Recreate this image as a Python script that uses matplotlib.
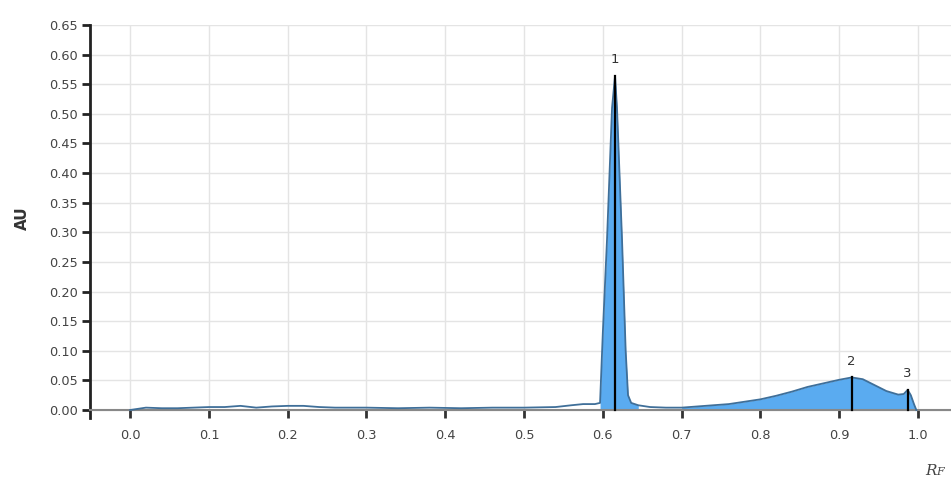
import numpy as np
import matplotlib.pyplot as plt

# densitogram: Rf position vs absorbance
rf = [0.0, 0.02, 0.04, 0.06, 0.08, 0.10, 0.12, 0.14, 0.16, 0.18, 0.20, 0.22, 0.24,
      0.26, 0.28, 0.30, 0.34, 0.38, 0.42, 0.46, 0.50, 0.54, 0.56, 0.575, 0.59,
      0.5965, 0.600, 0.6053, 0.6117, 0.6155, 0.618, 0.6244, 0.629, 0.632,
      0.636, 0.645, 0.66, 0.68, 0.70, 0.72, 0.74, 0.76, 0.78, 0.80, 0.82,
      0.84, 0.86, 0.88, 0.90, 0.916, 0.93, 0.945, 0.96, 0.975, 0.982, 0.987,
      0.991, 0.995, 0.998]
au = [0.0, 0.004, 0.003, 0.003, 0.004, 0.005, 0.005, 0.007, 0.004, 0.006, 0.007,
      0.007, 0.005, 0.004, 0.004, 0.004, 0.003, 0.004, 0.003, 0.004, 0.004, 0.005,
      0.008, 0.010, 0.010, 0.012, 0.13, 0.287, 0.51, 0.564, 0.51, 0.287, 0.10,
      0.025, 0.012, 0.008, 0.005, 0.004, 0.004, 0.006, 0.008, 0.010, 0.014,
      0.018, 0.024, 0.031, 0.039, 0.045, 0.051, 0.055, 0.052, 0.042, 0.032, 0.026,
      0.027, 0.034, 0.025, 0.010, 0.0]

peak_labels = ['1', '2', '3']
peak_rf = [0.6155, 0.916, 0.987]
peak_au = [0.564, 0.055, 0.034]

# integrated regions that get the blue fill
fill_ranges = [(0.596, 0.645), (0.70, 1.0)]

yticks = np.round(np.arange(0, 0.651, 0.05), 2)
xticks = np.round(np.arange(0, 1.01, 0.1), 1)

fig = plt.figure(figsize=(9.51, 4.83), dpi=100)
ax = fig.add_axes([90 / 951, 65 / 483, 1 - 90 / 951, (418 - 25) / 483])
ax.set_xlim(-0.051, 1.042)
ax.set_ylim(-0.0135, 0.65)

# grid
for y in yticks:
    ax.axhline(y, color='#e4e4e4', lw=1, zorder=0)
for x in xticks:
    ax.plot([x, x], [0, 0.65], color='#e4e4e4', lw=1, zorder=0)

rf_arr = np.array(rf)
au_arr = np.array(au)
for lo, hi in fill_ranges:
    m = (rf_arr >= lo) & (rf_arr <= hi)
    ax.fill_between(rf_arr[m], 0, au_arr[m], color='#5aabf0', lw=0, zorder=2)
ax.plot(rf, au, color='#3f6f99', lw=1.3, zorder=3)

for lab, x, y in zip(peak_labels, peak_rf, peak_au):
    ax.plot([x, x], [0, y], color='black', lw=1.6, zorder=4)
    ax.annotate(lab, (x, y), xytext=(0, 7), textcoords='offset points',
                ha='center', va='bottom', fontsize=9.5, color='#333333')

for side in ['top', 'right']:
    ax.spines[side].set_visible(False)
ax.spines['bottom'].set_position(('data', 0))
ax.spines['bottom'].set_color('#888888')
ax.spines['bottom'].set_linewidth(1.5)
ax.spines['left'].set_color('#222222')
ax.spines['left'].set_linewidth(2)

ax.set_yticks(yticks)
ax.set_yticklabels([f'{v:.2f}' for v in yticks])
ax.set_xticks(xticks)
ax.set_xticklabels([f'{v:.1f}' for v in xticks])
ax.tick_params(axis='y', length=6, width=2, color='#222222', labelsize=9.3,
               labelcolor='#444444', pad=3)
ax.tick_params(axis='x', length=6, width=2, color='#333333', labelsize=9.3,
               labelcolor='#444444', pad=8)

fig.text(22 / 951, 1 - 218 / 483, 'AU', rotation=90, ha='center', va='center',
         fontsize=11, fontweight='bold', color='#333333')
fig.text(925 / 951, 1 - 471 / 483, 'R', fontsize=11, style='italic',
         family='DejaVu Serif', color='#444444', ha='left', va='center')
fig.text(936 / 951, 1 - 472 / 483, 'F', fontsize=8, style='italic',
         family='DejaVu Serif', color='#444444', ha='left', va='center')

fig.savefig('out.png', dpi=100)
